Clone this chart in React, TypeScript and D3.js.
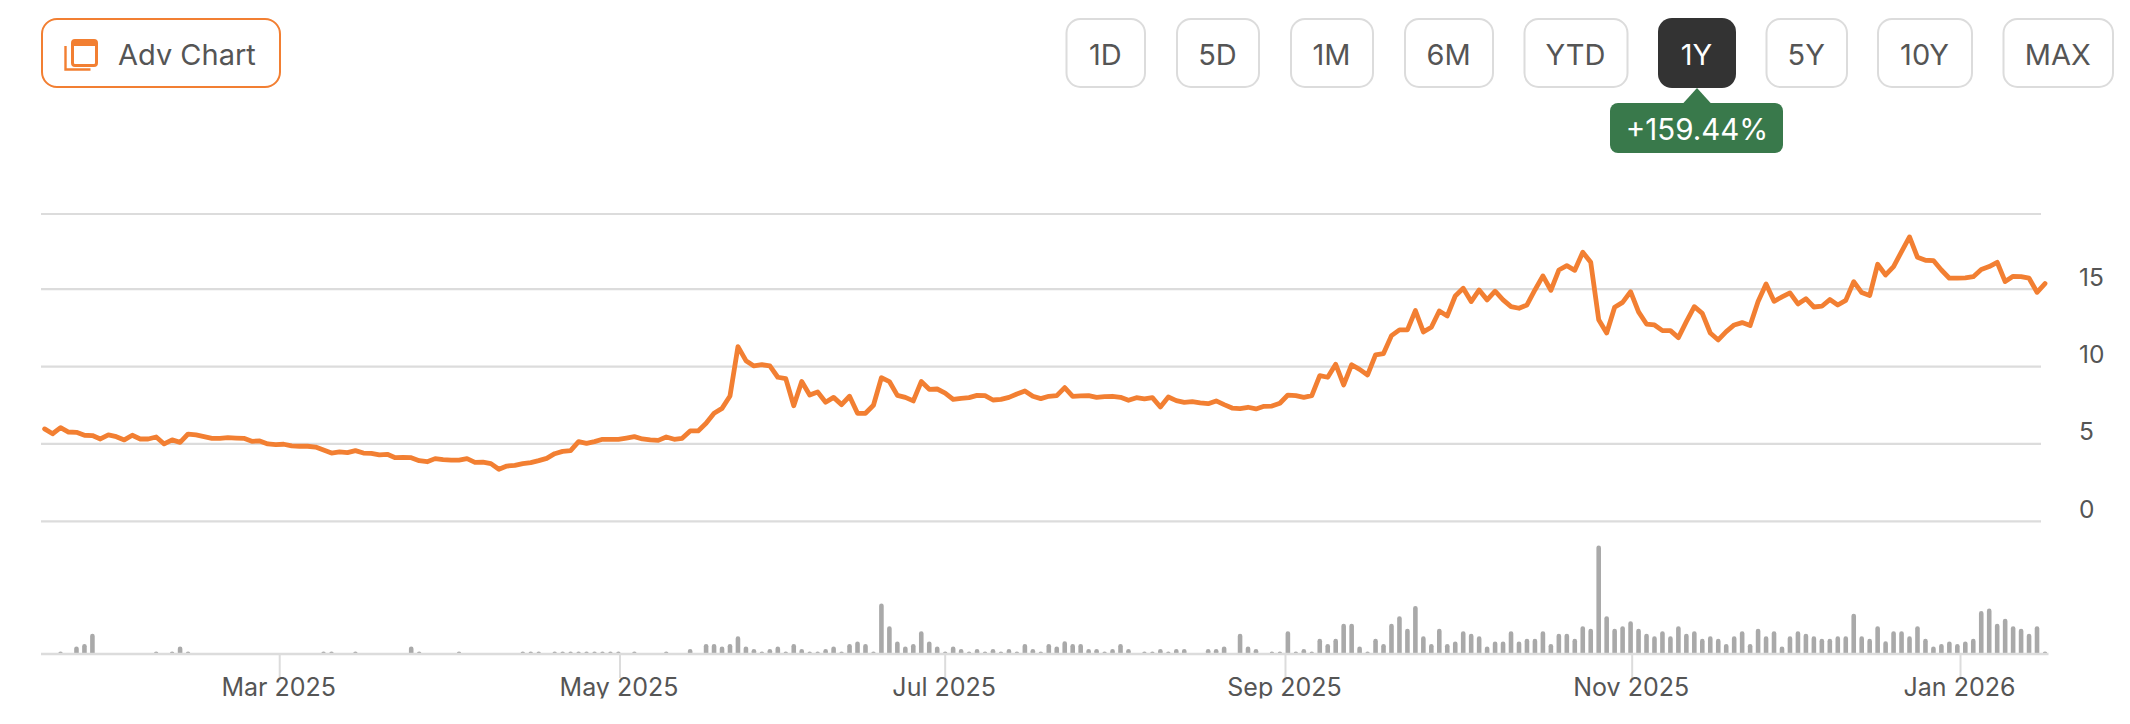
import React, { useEffect, useRef } from 'react';
import * as d3 from 'd3';

const ORANGE = '#f27f32';
const GRID = '#dcdcdc';
const TEXT = '#555555';
const FONT = 'Inter, "Liberation Sans", sans-serif';

// closing price per trading day
const closes = [
  5.97, 5.66, 6.05, 5.77, 5.75, 5.56, 5.54, 5.32, 5.58, 5.47, 5.26, 5.56, 5.32, 5.32, 5.45, 5.0, 5.26, 5.1, 5.64, 5.58,
  5.47, 5.36, 5.36, 5.41, 5.38, 5.36, 5.17, 5.19, 5.0, 4.95, 4.98, 4.87, 4.85, 4.85, 4.8, 4.61, 4.41, 4.48, 4.44, 4.57,
  4.41, 4.39, 4.29, 4.33, 4.11, 4.13, 4.11, 3.92, 3.85, 4.05, 3.98, 3.96, 3.96, 4.05, 3.81, 3.83, 3.73, 3.36, 3.57, 3.62,
  3.73, 3.79, 3.92, 4.07, 4.37, 4.52, 4.57, 5.15, 5.04, 5.15, 5.3, 5.3, 5.3, 5.38, 5.47, 5.32, 5.26, 5.23, 5.45, 5.3,
  5.36, 5.84, 5.84, 6.33, 6.98, 7.3, 8.1, 11.29, 10.38, 10.04, 10.12, 10.04, 9.31, 9.22, 7.47, 9.03, 8.16, 8.36, 7.69, 8.01,
  7.54, 8.08, 6.98, 6.98, 7.5, 9.28, 9.03, 8.14, 8.01, 7.78, 9.03, 8.53, 8.55, 8.29, 7.88, 7.95, 7.99, 8.14, 8.12, 7.84,
  7.88, 8.01, 8.23, 8.42, 8.08, 7.93, 8.08, 8.12, 8.64, 8.08, 8.1, 8.12, 8.01, 8.06, 8.08, 8.01, 7.82, 7.99, 7.91, 7.99,
  7.39, 8.03, 7.8, 7.69, 7.73, 7.65, 7.6, 7.78, 7.54, 7.32, 7.28, 7.37, 7.26, 7.43, 7.45, 7.63, 8.16, 8.12, 8.01, 8.12,
  9.41, 9.31, 10.15, 8.81, 10.12, 9.82, 9.46, 10.75, 10.84, 12.0, 12.37, 12.37, 13.62, 12.24, 12.54, 13.59, 13.27, 14.56, 15.06, 14.2,
  14.95, 14.31, 14.87, 14.31, 13.87, 13.77, 13.98, 14.95, 15.86, 14.93, 16.24, 16.52, 16.22, 17.39, 16.74, 13.03, 12.17, 13.83, 14.15, 14.84,
  13.53, 12.75, 12.69, 12.32, 12.32, 11.87, 12.9, 13.87, 13.44, 12.17, 11.72, 12.26, 12.69, 12.84, 12.65, 14.2, 15.34, 14.22, 14.5, 14.76,
  14.05, 14.39, 13.85, 13.9, 14.33, 13.98, 14.28, 15.49, 14.78, 14.59, 16.61, 15.92, 16.46, 17.43, 18.38, 17.06, 16.87, 16.85, 16.24, 15.71,
  15.71, 15.73, 15.81, 16.27, 16.46, 16.74, 15.49, 15.83, 15.81, 15.71, 14.8, 15.36,
];

// volume per trading day, in the chart's step units
const volumes = [
  0, 0, 1, 0, 3, 4, 8, 0, 0, 0, 0, 0, 0, 0, 1, 0, 1, 3, 1, 0,
  0, 0, 0, 0, 0, 0, 0, 0, 0, 0, 0, 0, 0, 0, 0, 1, 1, 0, 0, 1,
  0, 0, 0, 0, 0, 0, 3, 1, 0, 0, 0, 0, 1, 0, 0, 0, 0, 0, 0, 0,
  1, 1, 1, 0, 1, 1, 1, 1, 1, 1, 1, 1, 1, 0, 1, 0, 0, 0, 1, 0,
  0, 2, 0, 4, 4, 3, 4, 7, 3, 2, 1, 2, 3, 1, 4, 2, 1, 1, 2, 3,
  1, 4, 5, 4, 1, 20, 11, 5, 3, 4, 9, 5, 3, 1, 3, 2, 1, 2, 1, 2,
  1, 2, 1, 4, 2, 1, 4, 3, 5, 4, 4, 2, 2, 1, 2, 4, 2, 0, 1, 1,
  2, 1, 2, 2, 0, 0, 2, 2, 3, 0, 8, 3, 2, 0, 1, 1, 9, 1, 2, 1,
  6, 4, 6, 12, 12, 3, 1, 6, 4, 12, 15, 10, 19, 7, 4, 10, 4, 5, 9, 8,
  7, 3, 5, 5, 9, 5, 6, 6, 9, 4, 8, 8, 6, 11, 10, 43, 15, 10, 11, 13,
  10, 8, 7, 9, 7, 11, 8, 9, 6, 7, 6, 4, 7, 9, 4, 10, 7, 9, 3, 7,
  9, 8, 7, 6, 6, 7, 7, 16, 7, 6, 11, 5, 9, 9, 7, 11, 6, 3, 4, 5,
  4, 5, 6, 17, 18, 12, 14, 11, 10, 8, 11, 1,
];

const priceTicks = [0, 5, 10, 15];
const topLineValue = 19.86; // the frame line above 15 has no label
const maxVolume = 43;

// month ticks sit on the first trading day of the month
const monthLabels = ['Mar 2025', 'May 2025', 'Jul 2025', 'Sep 2025', 'Nov 2025', 'Jan 2026'];
const monthIndex = [29.5, 72.2, 113, 155.7, 199.2, 240.4];

const ranges = ['1D', '5D', '1M', '6M', 'YTD', '1Y', '5Y', '10Y', 'MAX'];
const rangeEdges: [number, number][] = [
  [1066.5, 1145], [1177, 1259], [1291, 1373], [1405, 1493], [1524.5, 1627.5], [1658, 1736], [1766.5, 1847], [1878, 1972], [2003.5, 2113],
];
const activeRange = '1Y';
const changeLabel = '+159.44%';

export default function App() {
  const ref = useRef<SVGSVGElement | null>(null);

  useEffect(() => {
    if (!ref.current) return;
    const svg = d3.select(ref.current);
    svg.selectAll('*').remove();
    svg.style('font-family', FONT);

    const x = d3.scaleLinear().domain([0, closes.length - 1]).range([44.6, 2045]);
    const y = d3.scaleLinear().domain([0, 15]).range([521.3, 289.2]);
    const yVol = d3.scaleLinear().domain([0, maxVolume]).range([654, 545.5]);

    // Clip labels at the bottom like the screenshot does
    svg.append('clipPath').attr('id', 'label-clip')
      .append('rect').attr('x', 0).attr('y', 0).attr('width', 2130).attr('height', 698.5);

    // Adv Chart button
    const adv = svg.append('g');
    adv.append('rect').attr('x', 42).attr('y', 19).attr('width', 238).attr('height', 68).attr('rx', 15)
      .attr('fill', '#fff').attr('stroke', ORANGE).attr('stroke-width', 2);
    adv.append('rect').attr('x', 72.5).attr('y', 40.5).attr('width', 24).attr('height', 25).attr('rx', 2.5)
      .attr('fill', '#fff').attr('stroke', ORANGE).attr('stroke-width', 3);
    adv.append('rect').attr('x', 72).attr('y', 40).attr('width', 25).attr('height', 6).attr('fill', ORANGE);
    adv.append('path').attr('d', 'M65.5 46V69.5H90.5').attr('fill', 'none').attr('stroke', ORANGE).attr('stroke-width', 2.4);
    adv.append('text').attr('x', 118).attr('y', 65).attr('font-size', 29).attr('fill', TEXT).text('Adv Chart');

    // Range buttons
    const btn = svg.append('g').selectAll('g').data(ranges).join('g');
    btn.append('rect')
      .attr('x', (_d, i) => rangeEdges[i][0])
      .attr('y', (d) => (d === activeRange ? 18 : 19))
      .attr('width', (_d, i) => rangeEdges[i][1] - rangeEdges[i][0])
      .attr('height', (d) => (d === activeRange ? 70 : 68))
      .attr('rx', 14)
      .attr('fill', (d) => (d === activeRange ? '#333333' : '#fff'))
      .attr('stroke', (d) => (d === activeRange ? 'none' : GRID))
      .attr('stroke-width', 2);
    btn.append('text')
      .attr('x', (_d, i) => (rangeEdges[i][0] + rangeEdges[i][1]) / 2 - 0.5)
      .attr('y', 65)
      .attr('text-anchor', 'middle')
      .attr('font-size', 29)
      .attr('fill', (d) => (d === activeRange ? '#fff' : TEXT))
      .text((d) => d);

    // Change badge under the active range
    const badge = svg.append('g');
    badge.append('rect').attr('x', 1610).attr('y', 103).attr('width', 173).attr('height', 50).attr('rx', 8).attr('fill', '#39794b');
    badge.append('path').attr('d', 'M1697 88L1711.5 104H1682.5Z').attr('fill', '#39794b');
    badge.append('text').attr('x', 1697).attr('y', 140).attr('text-anchor', 'middle').attr('font-size', 29.5).attr('fill', '#fff').text(changeLabel);

    // Price grid
    svg.append('g').selectAll('line').data([...priceTicks, topLineValue]).join('line')
      .attr('x1', 41).attr('x2', 2041)
      .attr('y1', (d) => y(d)).attr('y2', (d) => y(d))
      .attr('stroke', GRID).attr('stroke-width', 2.2);

    svg.append('g').selectAll('text').data(priceTicks).join('text')
      .attr('x', 2079).attr('y', (d) => y(d) - 3.5)
      .attr('font-size', 24.5).attr('fill', TEXT)
      .text((d) => d);

    // Volume bars with rounded tops
    const barW = 4.6;
    svg.append('g').selectAll('path').data(volumes.map((v, i) => ({ v, i })).filter((d) => d.v > 0)).join('path')
      .attr('fill', '#a9a9a9')
      .attr('d', (d) => {
        const p = d3.path();
        const x0 = x(d.i) - barW / 2;
        const top = yVol(d.v);
        const r = barW / 2;
        p.moveTo(x0, yVol(0));
        p.lineTo(x0, top + r);
        p.arc(x0 + r, top + r, r, Math.PI, 2 * Math.PI);
        p.lineTo(x0 + barW, yVol(0));
        p.closePath();
        return p.toString();
      });

    // Month ticks and baseline
    svg.append('g').selectAll('line').data(monthIndex).join('line')
      .attr('x1', (d) => x(d)).attr('x2', (d) => x(d))
      .attr('y1', 654).attr('y2', 678)
      .attr('stroke', GRID).attr('stroke-width', 2);
    svg.append('line').attr('x1', 41).attr('x2', 2048.5).attr('y1', 654).attr('y2', 654)
      .attr('stroke', GRID).attr('stroke-width', 2.6);
    svg.append('g').attr('clip-path', 'url(#label-clip)').selectAll('text').data(monthLabels).join('text')
      .attr('x', (_d, i) => x(monthIndex[i]) - 1)
      .attr('y', 696)
      .attr('text-anchor', 'middle')
      .attr('font-size', 25)
      .attr('fill', TEXT)
      .text((d) => d);

    // Price line
    const line = d3.line<number>().x((_d, i) => x(i)).y((d) => y(d));
    svg.append('path').attr('d', line(closes))
      .attr('fill', 'none')
      .attr('stroke', ORANGE)
      .attr('stroke-width', 4.8)
      .attr('stroke-linejoin', 'round')
      .attr('stroke-linecap', 'round');
  }, []);

  return <svg ref={ref} width={2130} height={724} style={{ position: 'absolute', left: 0, top: 0, display: 'block', background: '#fff' }} />;
}
